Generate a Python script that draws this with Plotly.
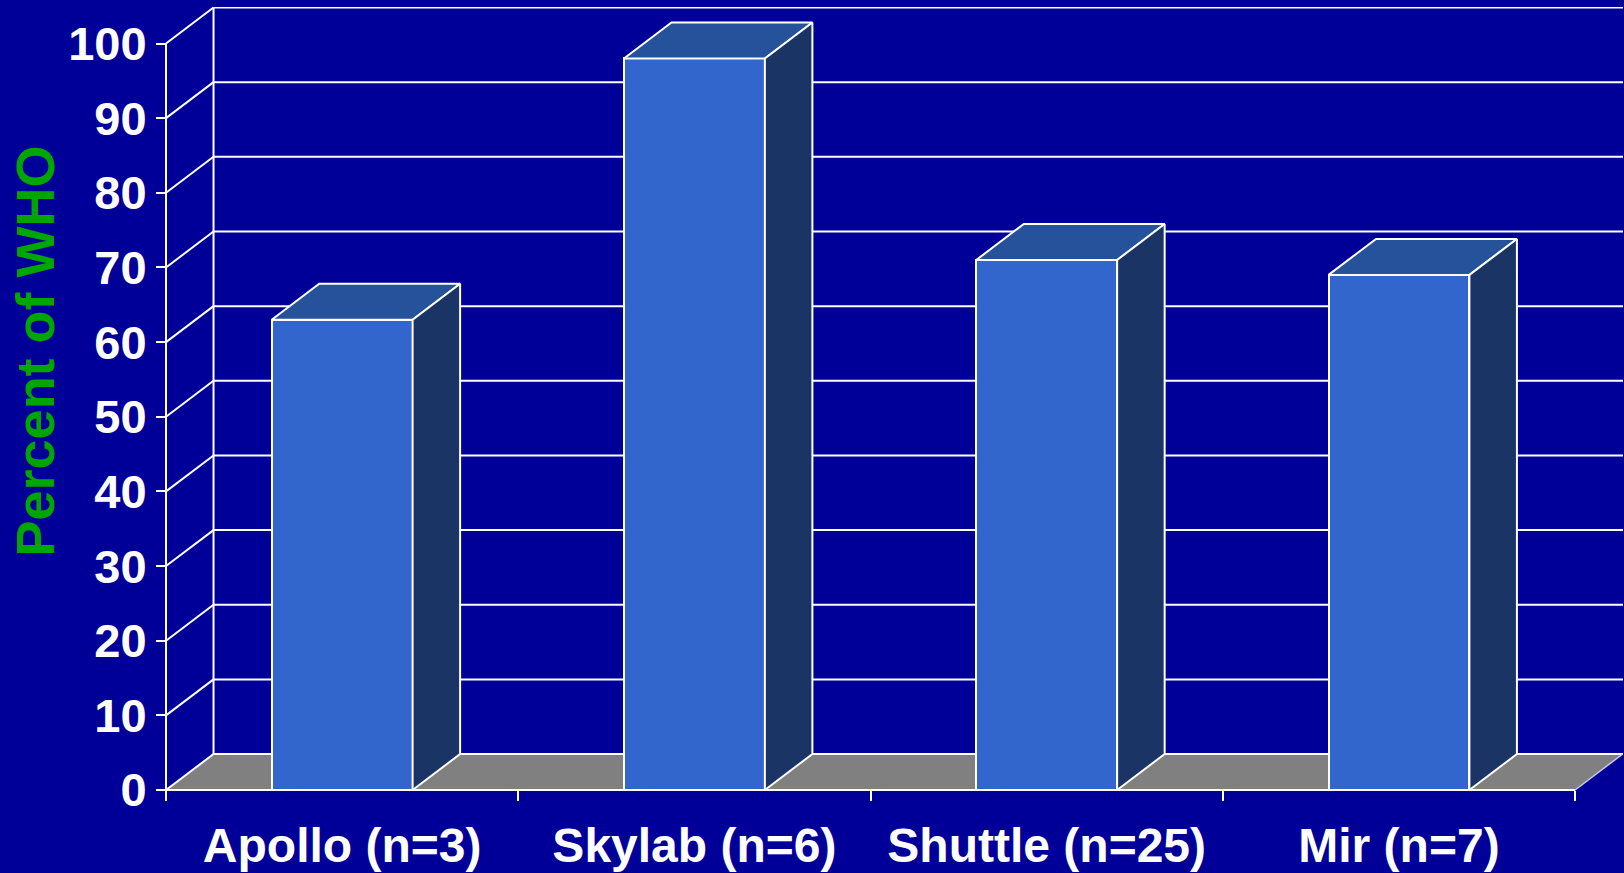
import plotly.graph_objects as go

# ---- data ----
categories = ["Apollo (n=3)", "Skylab (n=6)", "Shuttle (n=25)", "Mir (n=7)"]
values = [63, 98, 71, 69]
y_ticks = [0, 10, 20, 30, 40, 50, 60, 70, 80, 90, 100]

# ---- style / geometry ----
BG = "#000099"
FRONT = "#3366CC"
TOP = "#26519B"
SIDE = "#1B3466"
FLOOR = "#808080"
GREEN = "#00A600"
FONT = "Liberation Sans"

DX = 0.1349   # depth offset in category units
DY = 4.82     # depth offset in value units
BW = 0.40     # bar width in category units
XMIN, XMAX = -0.5199, 3.636
YMIN, YMAX = -0.4, 104.89

xs = list(range(len(categories)))
n = len(categories)
L, R = -0.5, n - 0.5

fig = go.Figure()

shapes = []
line_w = dict(color="white", width=2)
# floor
shapes.append(dict(type="path", xref="x", yref="y", layer="below",
                   path=f"M{L},0 L{R},0 L{R+DX},{DY} L{L+DX},{DY} Z",
                   fillcolor=FLOOR, line=dict(width=0)))
# back wall gridlines + side diagonals
for v in y_ticks:
    shapes.append(dict(type="line", xref="x", yref="y", layer="below",
                       x0=L + DX, x1=XMAX, y0=v + DY, y1=v + DY, line=line_w))
    shapes.append(dict(type="line", xref="x", yref="y", layer="below",
                       x0=L, x1=L + DX, y0=v, y1=v + DY, line=line_w))
# back-left vertical
shapes.append(dict(type="line", xref="x", yref="y", layer="below",
                   x0=L + DX, x1=L + DX, y0=DY, y1=y_ticks[-1] + DY, line=line_w))
# front axis line (value axis)
shapes.append(dict(type="line", xref="x", yref="y", layer="below",
                   x0=L, x1=L, y0=0, y1=y_ticks[-1], line=line_w))
# front floor edge
shapes.append(dict(type="line", xref="x", yref="y", layer="below",
                   x0=L, x1=R, y0=0, y1=0, line=line_w))
# right floor edge
shapes.append(dict(type="line", xref="x", yref="y", layer="below",
                   x0=R, x1=R + DX, y0=0, y1=DY, line=dict(color="#C8C8F0", width=1.5)))

# front faces as bars
fig.add_trace(go.Bar(x=xs, y=values, width=BW, marker=dict(color=FRONT, line=dict(color="white", width=2)),
                     hoverinfo="skip", showlegend=False))

# top and side faces
for x, v in zip(xs, values):
    a, b = x - BW / 2, x + BW / 2
    fig.add_trace(go.Scatter(x=[a, a + DX, b + DX, b, a], y=[v, v + DY, v + DY, v, v],
                             mode="lines", fill="toself", fillcolor=TOP,
                             line=dict(color="white", width=2), hoverinfo="skip", showlegend=False))
    fig.add_trace(go.Scatter(x=[b, b + DX, b + DX, b, b], y=[0, DY, v + DY, v, 0],
                             mode="lines", fill="toself", fillcolor=SIDE,
                             line=dict(color="white", width=2), hoverinfo="skip", showlegend=False))

ML, MR, MT, MB = 159, 1, 7, 80
W, H = 1624, 873
pw, ph = W - ML - MR, H - MT - MB

fig.update_layout(
    width=W, height=H,
    margin=dict(l=ML, r=MR, t=MT, b=MB),
    paper_bgcolor=BG, plot_bgcolor=BG,
    shapes=shapes,
    bargap=0,
    font=dict(family=FONT, color="white"),
    xaxis=dict(range=[XMIN, XMAX], tickvals=xs, ticktext=categories, ticks="",
               showgrid=False, zeroline=False, showline=False,
               anchor="free", position=3 / ph,
               tickfont=dict(family=FONT, size=48, color="white", weight="bold"),
               ticklabelstandoff=23,
               minor=dict(tickvals=[i - 0.5 for i in range(n + 1)], ticks="outside",
                          ticklen=10, tickwidth=2, tickcolor="white", showgrid=False)),
    yaxis=dict(range=[YMIN, YMAX], tickvals=y_ticks, ticks="outside", ticklen=10,
               tickwidth=2, tickcolor="white", showgrid=False, zeroline=False, showline=False,
               anchor="free", position=(166 - ML) / pw,
               tickfont=dict(family=FONT, size=47, color="white", weight="bold"),
               ticklabelstandoff=0),
    annotations=[dict(text="Percent of WHO", textangle=-90, showarrow=False,
                      xref="paper", yref="paper", x=(34 - ML) / pw, y=(H - MB - 351.5) / ph,
                      xanchor="center", yanchor="middle",
                      font=dict(family=FONT, size=54, color=GREEN, weight="bold"))],
)

fig.write_html("out.html")
